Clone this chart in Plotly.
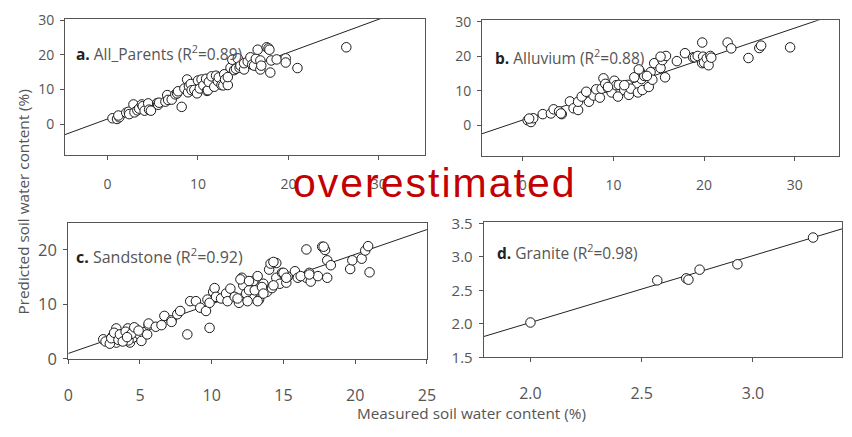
import plotly.graph_objects as go

# ---------------- data ----------------
# a. All parent materials
a_measured = [0.55, 1.05, 1.3, 1.2, 2.07, 2.35, 2.4, 2.87, 2.98, 3.3, 3.5, 3.8, 3.9, 4.1, 4.5, 4.6, 4.8,
              5.5, 5.6, 5.7, 6.4, 6.6, 6.7, 7.1, 7.5, 7.7, 7.8, 8.2, 8.5, 8.8, 8.9, 9.0, 9.2, 9.3, 9.6,
              9.9, 10.0, 10.2, 10.4, 10.6, 10.9, 11.0, 11.1, 11.2, 11.5, 11.8, 12.0, 12.2, 12.3, 12.6,
              12.8, 12.9, 13.0, 13.3, 13.3, 13.6, 13.8, 14.0, 14.2, 14.4, 14.6, 14.7, 15.1, 15.1, 15.5,
              15.8, 16.0, 16.2, 16.4, 16.6, 16.9, 16.9, 17.0, 17.6, 17.8, 17.9, 18.0, 18.1, 18.7, 19.7,
              19.7, 21.0, 26.4]
a_predicted = [1.7, 1.5, 2.0, 2.5, 3.3, 3.6, 2.9, 5.7, 3.4, 4.0, 4.5, 5.7, 5.2, 3.9, 6.0, 4.2, 3.9,
               6.1, 5.6, 6.2, 6.5, 8.4, 7.0, 7.1, 8.6, 8.9, 9.5, 5.0, 10.3, 12.9, 9.2, 11.0, 11.6, 9.8, 9.9,
               8.9, 12.6, 10.3, 12.9, 11.2, 13.1, 9.6, 9.8, 12.2, 13.8, 10.8, 14.0, 12.4, 13.5, 11.3,
               11.2, 14.4, 12.9, 11.3, 13.6, 16.3, 18.6, 15.6, 16.0, 19.0, 16.3, 16.9, 15.8, 17.6, 18.1,
               19.3, 17.2, 16.9, 18.9, 21.5, 15.8, 18.4, 16.9, 22.2, 21.9, 21.5, 14.9, 18.4, 18.7, 19.0,
               17.8, 16.2, 22.2]

# b. Alluvium
b_measured = [0.54, 0.9, 1.15, 2.2, 3.1, 3.4, 4.0, 4.3, 5.2, 5.6, 6.1, 6.1, 7.2, 7.3, 7.8, 8.1, 8.5,
              8.7, 8.9, 9.1, 9.4, 9.8, 10.1, 10.3, 10.5, 10.6, 11.2, 11.6, 11.7, 11.9, 12.7, 12.9, 13.1,
              13.2, 13.4, 13.9, 14.1, 14.3, 14.5, 15.2, 15.4, 15.7, 15.8, 17.0, 17.9, 18.8, 19.0, 19.3,
              19.8, 19.8, 19.9, 20.0, 20.3, 20.5, 20.7, 20.8, 22.6, 23.0, 24.9, 26.1, 26.3, 29.5,
              0.7, 4.2, 6.5, 7.0, 9.4, 11.2, 12.3, 12.8, 13.7, 15.2]
b_predicted = [1.4, 0.9, 2.0, 3.2, 3.4, 4.6, 4.0, 3.2, 6.9, 4.9, 4.4, 6.8, 9.0, 6.8, 8.6, 10.4, 8.0,
               10.6, 13.6, 12.0, 10.8, 9.5, 12.9, 11.6, 8.3, 11.7, 10.2, 11.7, 8.8, 10.6, 9.5, 15.7, 13.4,
               10.2, 14.3, 11.1, 15.4, 13.2, 18.0, 16.6, 18.9, 13.9, 20.1, 18.6, 20.9, 19.7, 19.7, 20.1,
               24.0, 18.0, 19.9, 18.2, 19.4, 17.4, 20.1, 19.6, 24.0, 22.3, 19.5, 22.4, 23.1, 22.6,
               1.9, 3.4, 8.3, 9.7, 11.1, 11.6, 13.9, 16.2, 14.3, 19.9]

# c. Sandstone
c_measured = [2.44, 2.8, 3.1, 3.35, 3.35, 3.7, 3.9, 3.9, 4.15, 4.3, 4.5, 4.7, 4.8, 4.95, 5.1, 5.5, 5.6,
              5.6, 6.1, 6.5, 6.7, 7.2, 7.2, 7.6, 7.8, 8.3, 8.5, 8.9, 9.2, 9.6, 9.7, 9.85, 9.85, 10.1,
              10.2, 10.3, 10.65, 11.0, 11.1, 11.3, 11.6, 11.9, 12.1, 12.2, 12.4, 12.5, 12.6, 12.9, 13.2,
              13.3, 13.6, 13.85, 14.0, 14.1, 14.2, 14.5, 14.5, 14.75, 14.9, 15.2, 15.3, 15.8, 16.0,
              16.6, 16.6, 16.8, 16.9, 17.4, 17.7, 17.9, 18.05, 18.05, 18.3, 19.65, 19.8, 20.45, 20.7,
              20.9, 21.0,
              2.6, 2.9, 3.0, 3.2, 3.5, 3.6, 4.0, 4.2, 4.4, 4.6, 4.9, 3.8, 4.1,
              17.8, 14.3, 15.0, 16.2, 16.8, 12.0, 12.6, 13.0, 13.5, 11.8, 13.2, 13.6, 14.3, 15.2]
c_predicted = [3.6, 3.3, 4.2, 5.6, 3.0, 3.9, 4.2, 3.9, 5.6, 3.0, 3.9, 5.5, 4.8, 4.5, 3.3, 4.5, 6.2,
               6.5, 5.9, 6.2, 7.9, 7.1, 6.8, 8.2, 8.8, 4.5, 10.6, 10.6, 9.4, 8.8, 10.9, 5.7, 10.3, 12.3,
               13.0, 11.4, 11.1, 12.0, 10.6, 12.9, 11.4, 10.3, 14.9, 13.5, 12.0, 10.6, 12.6, 14.3, 15.2,
               10.9, 13.8, 12.3, 16.4, 17.5, 13.0, 17.6, 14.9, 13.8, 15.8, 14.0, 15.1, 16.1, 14.9,
               20.1, 14.9, 15.8, 14.2, 15.2, 20.6, 20.0, 18.1, 14.9, 17.2, 16.5, 18.1, 18.4, 19.9,
               20.7, 15.9,
               3.2, 2.8, 3.8, 4.8, 3.5, 4.5, 5.0, 3.4, 4.6, 5.8, 5.2, 3.2, 4.0,
               20.6, 17.8, 15.8, 15.2, 15.5, 14.6, 14.3, 12.6, 13.2, 11.1, 10.6, 12.0, 13.5, 14.9]

# d. Granite
d_measured = [2.00, 2.57, 2.70, 2.71, 2.76, 2.93, 3.27]
d_predicted = [2.02, 2.65, 2.68, 2.66, 2.81, 2.89, 3.29]

# fitted lines: slope, intercept
fit_slope = [0.96, 0.89, 0.91, 1.00]
fit_intercept = [1.5, 1.5, 1.0, 0.02]

panel_labels = ["a.", "b.", "c.", "d."]
panel_names = ["All_Parents", "Alluvium", "Sandstone", "Granite"]
panel_r2 = ["0.89", "0.88", "0.92", "0.98"]

# ---------------- layout helpers ----------------
W, H = 852, 437
FONT = "Open Sans"
GREY = "#555555"

# plot boxes in pixels: left, top, right, bottom
boxes = [(61, 10, 427, 153), (485, 11.7, 848, 154), (64.3, 224, 429, 366.7), (486.7, 222.7, 851, 365)]
x_ranges = [[-4.7, 35.1], [-4.5, 34.9], [0, 25], [1.79, 3.4]]
y_ranges = [[-8.9, 30.5], [-8.95, 30.5], [0, 25], [1.5, 3.53]]
x_ticks = [[0, 10, 20, 30], [0, 10, 20, 30], [0, 5, 10, 15, 20, 25], [2.0, 2.5, 3.0]]
y_ticks = [[0, 10, 20, 30], [0, 10, 20, 30], [0, 10, 20], [1.5, 2.0, 2.5, 3.0, 3.5]]
tick_fmt = [("", ""), ("", ""), ("", ""), (".1f", ".1f")]
tick_size = [(14, 14), (14, 14), (16, 16.5), (16, 15)]
x_standoff = [12, 12, 18, 18]
label_pos = [(70, 46), (496, 50), (70, 259), (498, 255)]
label_size = [15.5, 15.5, 16, 15.5]

measured = [a_measured, b_measured, c_measured, d_measured]
predicted = [a_predicted, b_predicted, c_predicted, d_predicted]

fig = go.Figure()
layout = dict(
    width=W, height=H,
    margin=dict(l=0, r=0, t=0, b=0),
    paper_bgcolor="white", plot_bgcolor="white",
    showlegend=False,
    font=dict(family=FONT, color=GREY),
)
annotations = []

for i in range(4):
    sfx = "" if i == 0 else str(i + 1)
    xa, ya = "x" + sfx, "y" + sfx
    l, t, r, b = boxes[i]
    axis_common = dict(
        showline=True, mirror=True, linecolor=GREY, linewidth=1,
        ticks="outside", ticklen=4, tickcolor=GREY, tickwidth=1,
        showgrid=False, zeroline=False, fixedrange=True,
    )
    layout["xaxis" + sfx] = dict(
        axis_common, domain=[l / W, r / W], range=x_ranges[i], anchor=ya,
        tickmode="array", tickvals=x_ticks[i], tickformat=tick_fmt[i][0],
        tickfont=dict(family=FONT, size=tick_size[i][0], color=GREY),
        ticklabelstandoff=x_standoff[i],
    )
    layout["yaxis" + sfx] = dict(
        axis_common, domain=[1 - b / H, 1 - t / H], range=y_ranges[i], anchor=xa,
        tickmode="array", tickvals=y_ticks[i], tickformat=tick_fmt[i][1],
        tickfont=dict(family=FONT, size=tick_size[i][1], color=GREY),
        ticklabelstandoff=3,
    )

    # regression line across the full x range
    x0, x1 = x_ranges[i]
    fig.add_trace(go.Scatter(
        x=[x0, x1],
        y=[fit_slope[i] * x0 + fit_intercept[i], fit_slope[i] * x1 + fit_intercept[i]],
        mode="lines", line=dict(color="#222222", width=1),
        xaxis=xa, yaxis=ya, hoverinfo="skip",
    ))
    # observed vs predicted points
    fig.add_trace(go.Scatter(
        x=measured[i], y=predicted[i], mode="markers",
        marker=dict(size=9.5, color="white", line=dict(color="#1a1a1a", width=1)),
        xaxis=xa, yaxis=ya,
    ))

    lx, ly = label_pos[i]
    annotations.append(dict(
        x=lx / W, y=1 - ly / H, xref="paper", yref="paper",
        xanchor="left", yanchor="middle", showarrow=False,
        text=f"<span style='color:#222'><b>{panel_labels[i]}</b></span> {panel_names[i]} "
             f"(R<sup>2</sup>={panel_r2[i]})",
        font=dict(family=FONT, size=label_size[i], color=GREY),
    ))

# shared axis titles
annotations.append(dict(
    x=474 / W, y=1 - 423 / H, xref="paper", yref="paper", showarrow=False,
    xanchor="center", yanchor="middle",
    text="Measured soil water content (%)",
    font=dict(family=FONT, size=15.3, color=GREY),
))
annotations.append(dict(
    x=18 / W, y=1 - 202 / H, xref="paper", yref="paper", showarrow=False,
    xanchor="center", yanchor="middle", textangle=-90,
    text="Predicted soil water content (%)",
    font=dict(family=FONT, size=15.3, color=GREY),
))
# red overlay word
annotations.append(dict(
    x=437 / W, y=1 - 182 / H, xref="paper", yref="paper", showarrow=False,
    xanchor="center", yanchor="middle",
    text="<span style='letter-spacing:2px'>overestimated</span>",
    font=dict(family="Liberation Sans", size=41, color="#c40000"),
))

layout["annotations"] = annotations
fig.update_layout(**layout)
fig.write_html("out.html")
